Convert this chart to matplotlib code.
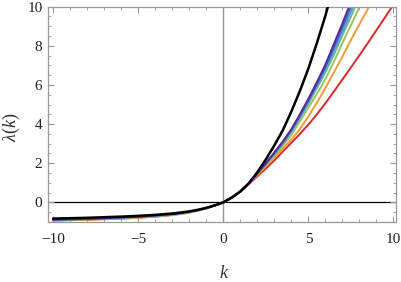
import numpy as np
import matplotlib
matplotlib.use("Agg")
import matplotlib.pyplot as plt
from matplotlib.ticker import MultipleLocator

plt.rcParams['font.family'] = ['Liberation Serif', 'DejaVu Serif']
plt.rcParams['mathtext.fontset'] = 'custom'
plt.rcParams['mathtext.rm'] = 'Liberation Serif'
plt.rcParams['mathtext.it'] = 'Liberation Serif:italic'

nan = np.nan

# k grid
k = [-10, -9, -8, -7, -6, -5, -4, -3, -2.5, -2, -1.5, -1, -0.5,
     0, 0.5, 1, 1.5, 2, 2.5, 3, 3.5, 4, 4.5, 5, 5.5, 6, 6.5, 7, 7.5,
     8, 8.5, 9, 9.5, 10]

lam_red = [-0.93, -0.91, -0.89, -0.86, -0.83, -0.79, -0.73, -0.65, -0.59, -0.52, -0.42, -0.31, -0.16,
           0, 0.25, 0.55, 0.93, 1.33, 1.73, 2.15, 2.6, 3.05, 3.5, 3.98, 4.5, 5.07, 5.67, 6.28, 6.9,
           7.52, 8.15, 8.8, 9.45, 10.1]
lam_orange = [-0.92, -0.90, -0.88, -0.85, -0.82, -0.78, -0.72, -0.64, -0.58, -0.51, -0.42, -0.30, -0.16,
              0, 0.25, 0.55, 0.95, 1.4, 1.85, 2.3, 2.75, 3.22, 3.75, 4.4, 5.1, 5.85, 6.65, 7.45, 8.3,
              9.1, 9.9, 10.7, nan, nan]
lam_ygreen = [-0.91, -0.89, -0.87, -0.84, -0.81, -0.77, -0.71, -0.63, -0.57, -0.50, -0.41, -0.30, -0.16,
              0, 0.25, 0.56, 0.97, 1.45, 1.92, 2.4, 2.9, 3.45, 4.15, 4.85, 5.55, 6.3, 7.2, 8.15, 9.05,
              10.0, 10.95, nan, nan, nan]
lam_green = [-0.90, -0.88, -0.86, -0.83, -0.80, -0.76, -0.70, -0.62, -0.56, -0.49, -0.41, -0.29, -0.155,
             0, 0.25, 0.56, 0.97, 1.46, 1.95, 2.45, 3.0, 3.6, 4.3, 5.05, 5.85, 6.65, 7.55, 8.55, 9.5,
             10.5, nan, nan, nan, nan]
lam_cyan = [-0.89, -0.87, -0.85, -0.82, -0.78, -0.74, -0.69, -0.61, -0.56, -0.49, -0.40, -0.29, -0.155,
            0, 0.25, 0.56, 0.98, 1.47, 1.97, 2.5, 3.04, 3.65, 4.38, 5.14, 5.95, 6.8, 7.75, 8.75, 9.75,
            10.8, nan, nan, nan, nan]
lam_blue = [-0.885, -0.865, -0.845, -0.815, -0.775, -0.735, -0.68, -0.605, -0.555, -0.485, -0.40, -0.29, -0.155,
            0, 0.25, 0.56, 0.98, 1.48, 1.99, 2.53, 3.08, 3.7, 4.44, 5.22, 6.05, 6.93, 7.93, 8.95, 10.0,
            11.1, nan, nan, nan, nan]
lam_purple = [-0.88, -0.86, -0.84, -0.81, -0.77, -0.73, -0.67, -0.60, -0.55, -0.48, -0.40, -0.29, -0.155,
              0, 0.25, 0.56, 0.98, 1.48, 2.0, 2.55, 3.12, 3.75, 4.5, 5.3, 6.15, 7.05, 8.1, 9.15, 10.25,
              nan, nan, nan, nan, nan]
lam_black = [-0.83, -0.81, -0.79, -0.76, -0.73, -0.69, -0.64, -0.57, -0.52, -0.46, -0.38, -0.28, -0.15,
             0, 0.25, 0.56, 0.98, 1.55, 2.2, 2.92, 3.7, 4.65, 5.7, 6.85, 8.15, 9.55, 11.1, nan, nan,
             nan, nan, nan, nan, nan]

series = [lam_red, lam_orange, lam_ygreen, lam_green, lam_cyan, lam_blue, lam_purple]
colors = ['#e0262a', '#ee9e32', '#a0c25a', '#6cb696', '#4f9fd2', '#3f5fcc', '#5a2a94']

fig = plt.figure(figsize=(4.02, 2.82), dpi=100)
ax = fig.add_axes([48/402, 1-221.7/282, 348/402, 215/282])

ax.axhline(0, color='black', lw=0.9, zorder=1)
ax.axvline(0, color='#999999', lw=1.0, zorder=1)

for vals, c in zip(series, colors):
    ax.plot(k, vals, color=c, lw=1.4, zorder=2, solid_joinstyle='round')
ax.plot(k, lam_black, color='black', lw=1.8, zorder=3, solid_joinstyle='round')

ax.set_xlim(-10.32, 10.15)
ax.set_ylim(-0.99, 10)

ax.xaxis.set_major_locator(MultipleLocator(5))
ax.xaxis.set_minor_locator(MultipleLocator(1))
ax.yaxis.set_major_locator(MultipleLocator(2))
ax.yaxis.set_minor_locator(MultipleLocator(0.5))

for sp in ax.spines.values():
    sp.set_color('#999999')
    sp.set_linewidth(0.9)

ax.tick_params(which='both', direction='in', top=True, right=True, color='#999999',
               labelsize=11, labelcolor='#222222')
ax.tick_params(which='major', length=4, width=0.8)
ax.tick_params(which='minor', length=2, width=0.6)
ax.tick_params(axis='x', pad=8)
ax.tick_params(axis='y', pad=4)

ax.set_xlabel(r'$k$', fontsize=13, color='#333333')
ax.set_ylabel(r'$\lambda(k)$', fontsize=13, color='#333333')
ax.xaxis.set_label_coords(0.506, -0.2)
ax.yaxis.set_label_coords(-0.075, 0.44)

fig.savefig('out.png', dpi=100)
